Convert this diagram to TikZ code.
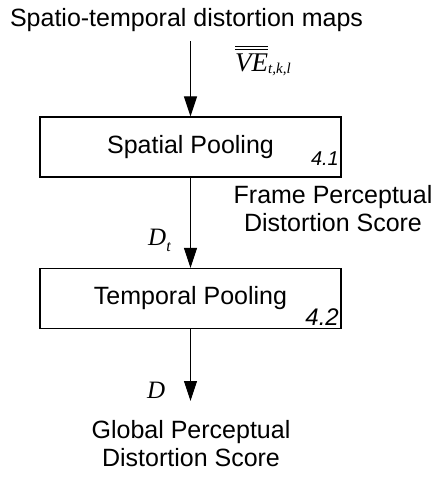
\documentclass[tikz,border=0pt]{standalone}
\usepackage{fontspec}
\setmainfont{Liberation Sans}
\newfontfamily\tmsfont{Liberation Serif}
\usetikzlibrary{arrows.meta}
\newcommand{\dblbar}[1]{\vbox{\hrule height 1.2pt\kern1.8pt\hrule height 1.2pt\kern3pt\hbox{#1}}}
\begin{document}
\begin{tikzpicture}[x=1pt,y=-1pt,
  lbl/.style={font=\fontsize{25}{28}\selectfont, inner sep=0pt},
  mlbl/.style={font=\fontsize{25}{28}\selectfont\tmsfont\itshape, inner sep=0pt},
  numlbl/.style={font=\itshape, inner sep=0pt, anchor=base east},
  procbox/.style={draw, line width=1.2pt, minimum width=301pt, minimum height=60pt, inner sep=0pt,
    font=\fontsize{25}{28}\selectfont},
  flow/.style={line width=1pt, -{Triangle[length=20pt,width=13pt]}},
]
\useasboundingbox[fill=white] (0,0) rectangle (434,479);
\node[lbl, anchor=base] (title) at (186.5,27) {Spatio-temporal distortion maps};
\node[procbox] (sp) at (190.5,147) {Spatial Pooling};
\node[procbox] (tp) at (190.5,298.5) {Temporal Pooling};
\node[numlbl, font=\fontsize{20}{24}\selectfont\itshape] (n41) at (339,165) {4.1};
\node[numlbl, font=\fontsize{24}{28}\selectfont\itshape] (n42) at (339,325) {4.2};
\coordinate (in) at (190.5,41);
\coordinate (out) at (190.5,401);
\draw[flow] (in) -- (sp.north);
\draw[flow] (sp.south) -- (tp.north);
\draw[flow] (tp.south) -- (out);
\node[mlbl, font=\fontsize{27}{30}\selectfont\tmsfont\itshape, anchor=base west] (ve) at (235,71)
  {\dblbar{VE}\raisebox{-2pt}{\fontsize{15}{17}\selectfont t,k,l}};
\node[mlbl, anchor=base west] (dt) at (148,245)
  {D\raisebox{-6pt}{\fontsize{16}{18}\selectfont t}};
\node[mlbl, anchor=base west] (d) at (147,398) {D};
\node[lbl, anchor=base, align=center] (fpds) at (333,231) {Frame Perceptual\\Distortion Score};
\node[lbl, anchor=base, align=center] (gpds) at (191,466) {Global Perceptual\\Distortion Score};
\end{tikzpicture}
\end{document}
